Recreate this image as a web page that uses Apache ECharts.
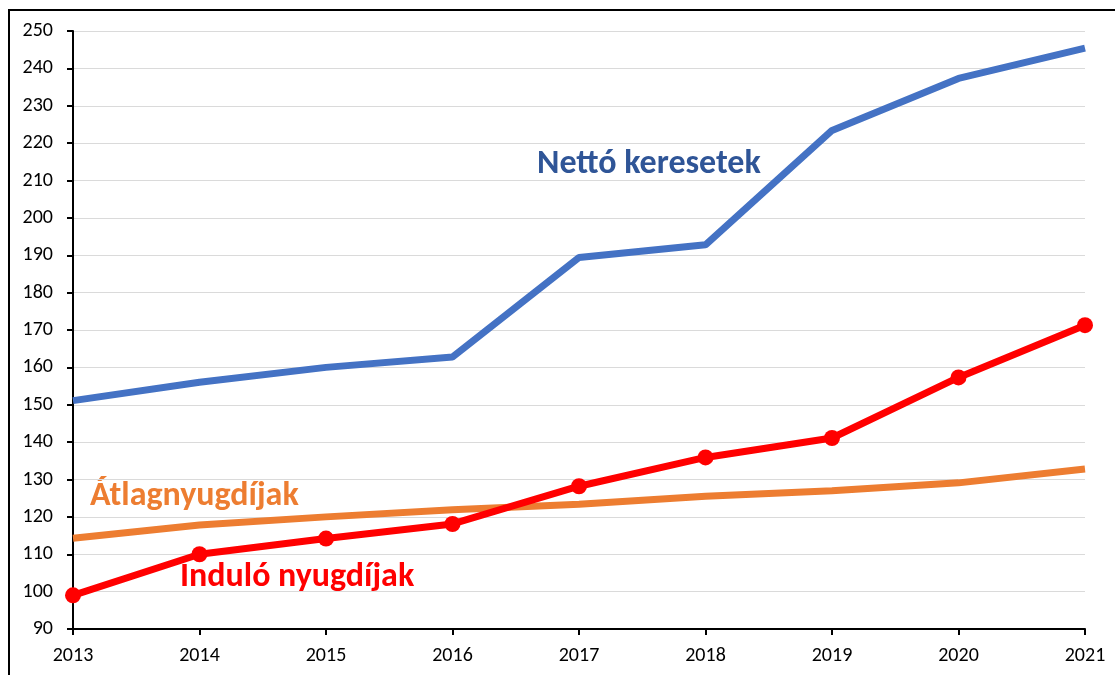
<!DOCTYPE html>
<html>
<head>
<meta charset="utf-8">
<script src="https://cdn.jsdelivr.net/npm/echarts@6/dist/echarts.min.js"></script>
<style>
  html, body { margin: 0; padding: 0; background: #fff; }
  #main { width: 1115px; height: 675px; }
</style>
</head>
<body>
<div id="main"></div>
<script>
// évek és értékek (2013 = 100 körüli indexek)
var years = ['2013', '2014', '2015', '2016', '2017', '2018', '2019', '2020', '2021'];
var nettoKeresetek = [151.1, 156.0, 160.0, 162.8, 189.4, 192.8, 223.4, 237.3, 245.4];
var atlagNyugdijak = [114.3, 117.8, 120.0, 121.9, 123.4, 125.5, 127.0, 129.1, 132.8];
var induloNyugdijak = [99.0, 110.0, 114.2, 118.1, 128.2, 135.9, 141.1, 157.3, 171.3];

var chart = echarts.init(document.getElementById('main'));
var font = 'Carlito, Calibri, "Noto Sans", "Open Sans", sans-serif';

var option = {
    backgroundColor: '#fff',
    animation: false,
    grid: { left: 73, right: 30, top: 31, bottom: 46 },
    xAxis: {
        type: 'category',
        data: years,
        boundaryGap: false,
        axisLine: { lineStyle: { color: '#000', width: 2 } },
        axisTick: { alignWithLabel: true, length: 6, lineStyle: { color: '#000', width: 2 } },
        axisLabel: { color: '#000', fontSize: 20, fontFamily: font, margin: 17 },
        splitLine: { show: false }
    },
    yAxis: {
        type: 'value',
        min: 90,
        max: 250,
        interval: 10,
        axisLine: { show: true, lineStyle: { color: '#000', width: 2 } },
        axisTick: { show: true, length: 6, lineStyle: { color: '#000', width: 2 } },
        axisLabel: { color: '#000', fontSize: 20, fontFamily: font, margin: 20 },
        splitLine: { lineStyle: { color: '#dadada', width: 1 } }
    },
    graphic: [
        {   // keret
            type: 'rect', silent: true,
            shape: { x: 9, y: 10, width: 1120, height: 680 },
            style: { fill: 'none', stroke: '#000', lineWidth: 2 }
        },
        {
            type: 'text', left: 537, top: 147,
            style: { text: 'Nettó keresetek', fill: '#2f5597', font: 'bold 34px ' + font }
        },
        {
            type: 'text', left: 90, top: 479,
            style: { text: 'Átlagnyugdíjak', fill: '#ed7d31', font: 'bold 34px ' + font }
        },
        {
            type: 'text', left: 180, top: 560,
            style: { text: 'Induló nyugdíjak', fill: '#ff0000', font: 'bold 34px ' + font }
        }
    ],
    series: [
        {
            name: 'Nettó keresetek',
            type: 'line',
            data: nettoKeresetek,
            symbol: 'none',
            lineStyle: { color: '#4472c4', width: 7 },
            z: 3
        },
        {
            name: 'Átlagnyugdíjak',
            type: 'line',
            data: atlagNyugdijak,
            symbol: 'none',
            lineStyle: { color: '#ed7d31', width: 7 },
            z: 2
        },
        {
            name: 'Induló nyugdíjak',
            type: 'line',
            data: induloNyugdijak,
            symbol: 'circle',
            symbolSize: 16,
            itemStyle: { color: '#ff0000' },
            lineStyle: { color: '#ff0000', width: 7 },
            z: 4
        }
    ]
};

chart.setOption(option);
</script>
</body>
</html>
